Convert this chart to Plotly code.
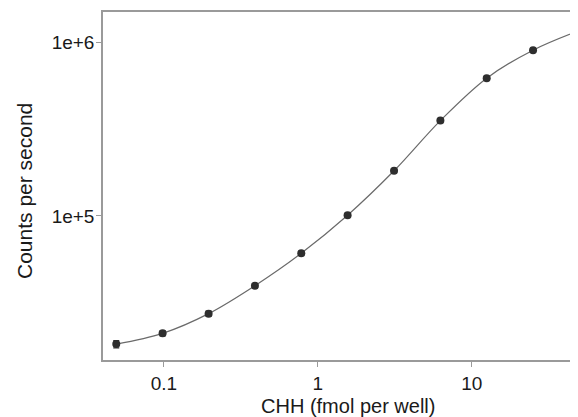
import plotly.graph_objects as go

# Data
chh_fmol = [0.049, 0.098, 0.195, 0.39, 0.78, 1.56, 3.125, 6.25, 12.5, 25, 50]
counts = [18300, 21100, 27400, 39700, 61000, 101000, 182000, 354000, 621000, 900000, 1167000]
counts_err = [900, 700, 900, 1100, 1500, 2500, 5000, 9000, 15000, 22000, 30000]

x_tickvals = [0.1, 1, 10]
x_ticktext = ["0.1", "1", "10"]
y_tickvals = [1e5, 1e6]
y_ticktext = ["1e+5", "1e+6"]

x_title = "CHH (fmol per well)"
y_title = "Counts per second"

fig = go.Figure()
fig.add_trace(go.Scatter(
    x=chh_fmol, y=counts, mode="lines",
    line=dict(color="#6a6a6a", width=1.2, shape="spline", smoothing=1.0),
    hoverinfo="skip", showlegend=False,
))
fig.add_trace(go.Scatter(
    x=chh_fmol, y=counts, mode="markers",
    marker=dict(color="#2e2e2e", size=8),
    error_y=dict(type="data", array=counts_err, color="#2e2e2e", thickness=1.2, width=3),
    showlegend=False, cliponaxis=False,
))

font_family = "Liberation Sans, Arial, sans-serif"
fig.update_layout(
    width=570, height=409,
    margin=dict(l=95, r=0, t=4, b=57),
    paper_bgcolor="white", plot_bgcolor="white",
    font=dict(family=font_family, size=19, color="#1a1a1a"),
    xaxis=dict(
        type="log", range=[-1.396, 1.69],
        tickvals=x_tickvals, ticktext=x_ticktext,
        showgrid=False, zeroline=False,
        showline=True, linecolor="#9a9a9a", linewidth=1.5, mirror=True,
        ticks="outside", ticklen=5, tickcolor="#9a9a9a", tickwidth=1,
        tickfont=dict(size=19),
    ),
    yaxis=dict(
        type="log", range=[4.171, 6.174],
        tickvals=y_tickvals, ticktext=y_ticktext,
        showgrid=False, zeroline=False,
        showline=True, linecolor="#9a9a9a", linewidth=1.5,
        ticks="outside", ticklen=5, tickcolor="#9a9a9a", tickwidth=1,
        tickfont=dict(size=19), ticklabelstandoff=-2,
    ),
    annotations=[
        dict(text=x_title, xref="paper", yref="paper", x=0.515, y=-0.132,
             xanchor="center", yanchor="middle", showarrow=False,
             font=dict(size=20)),
        dict(text=y_title, xref="paper", yref="paper", x=-0.164, y=0.486,
             xanchor="center", yanchor="middle", showarrow=False, textangle=-90,
             font=dict(size=21)),
    ],
)

fig.write_html("out.html")
